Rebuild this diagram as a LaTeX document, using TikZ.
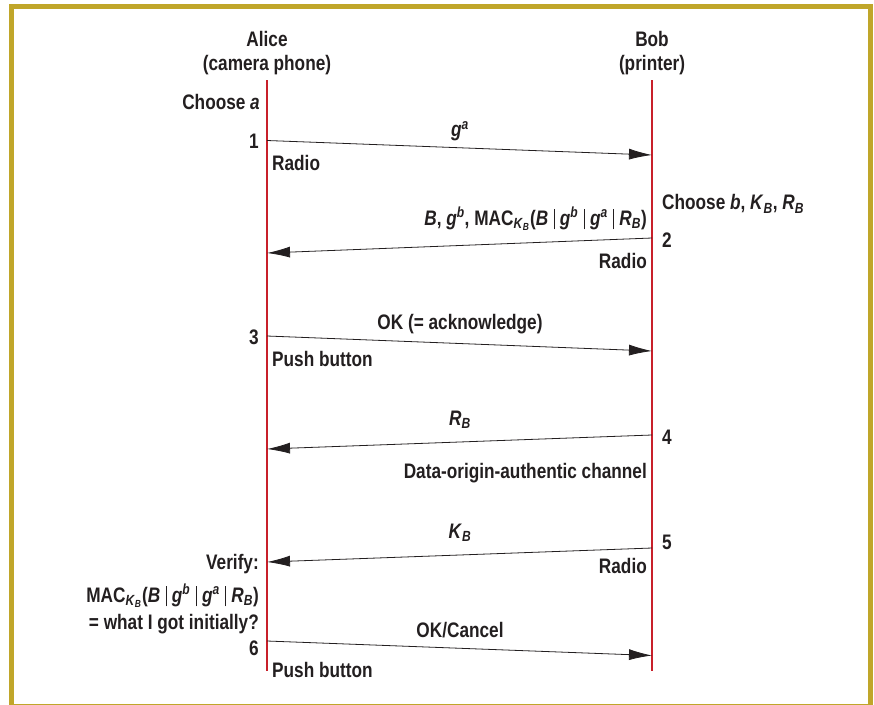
\documentclass[tikz,border=0pt]{standalone}
\usepackage{fontspec}
\setmainfont{Liberation Sans}[FakeStretch=0.82]
\usetikzlibrary{arrows.meta}
\definecolor{framegold}{RGB}{192,166,42}
\definecolor{lifered}{RGB}{200,32,42}
\definecolor{inkgray}{RGB}{35,31,32}
\newcommand{\msgbar}{\hspace{5.5pt}\rule[-4pt]{0.7pt}{20pt}\hspace{5.5pt}}
\newcommand{\KB}{\textit{K}\textsubscript{\textit{B}}}
\newcommand{\RB}{\textit{R}\textsubscript{\textit{B}}}
\newcommand{\macterm}{MAC\textsubscript{\KB}(\textit{B}\msgbar\textit{g}\textsuperscript{\textit{b}}\msgbar\textit{g}\textsuperscript{\textit{a}}\msgbar\RB)}
\begin{document}
\begin{tikzpicture}[x=1pt, y=-1pt, font=\bfseries\fontsize{21}{24}\selectfont,
        txt/.style={inner sep=0pt, text=inkgray},
        life/.style={draw=lifered, line width=2pt},
        msg/.style={draw=inkgray, line width=0.8pt,
                    -{Latex[length=23pt, width=11pt]}}]
      \useasboundingbox (0,0) rectangle (874,704);
      % Cadre
      \draw[framegold, line width=5pt] (11.5,6.5) rectangle (870.5,706);
      % Participants
      \node[txt, align=center] (alice) at (267,53) {Alice\\(camera phone)};
      \node[txt, align=center] (bob)   at (652,53) {Bob\\(printer)};
      % Lignes de vie
      \coordinate (a0) at (267,80);  \coordinate (a1) at (267,671);
      \coordinate (b0) at (652,80);  \coordinate (b1) at (652,671);
      \draw[life] (a0) -- (a1);
      \draw[life] (b0) -- (b1);
      % Extremites des messages
      \coordinate (a-1) at (267,140.5); \coordinate (b-1) at (652,155);
      \coordinate (b-2) at (652,238);   \coordinate (a-2) at (267,253);
      \coordinate (a-3) at (267,336);   \coordinate (b-3) at (652,351);
      \coordinate (b-4) at (652,435);   \coordinate (a-4) at (267,449);
      \coordinate (b-5) at (652,548);   \coordinate (a-5) at (267,562);
      \coordinate (a-6) at (267,641);   \coordinate (b-6) at (652,655.5);
      % Fleches Alice -> Bob
      \foreach \n in {1,3,6}
        \draw[msg] (a-\n) -- (b-\n);
      % Fleches Bob -> Alice
      \foreach \n in {2,4,5}
        \draw[msg] (b-\n) -- (a-\n);
      % Contenu des messages
      \node[txt] (lab1) at (460,131) {\textit{g}\textsuperscript{\textit{a}}};
      \node[txt, anchor=east] (lab2) at (647,219)
            {\textit{B}, \textit{g}\textsuperscript{\textit{b}}, \macterm};
      \node[txt] (lab3) at (460,324) {OK (= acknowledge)};
      \node[txt] (lab4) at (460,420) {\RB};
      \node[txt] (lab5) at (460,533) {\KB};
      \node[txt] (lab6) at (460,630) {OK/Cancel};
      % Numeros
      \node[txt, anchor=east] (n1) at (259,141) {1};
      \node[txt, anchor=west] (n2) at (662,240) {2};
      \node[txt, anchor=east] (n3) at (259,337) {3};
      \node[txt, anchor=west] (n4) at (662,437) {4};
      \node[txt, anchor=west] (n5) at (662,542) {5};
      \node[txt, anchor=east] (n6) at (259,648) {6};
      % Canaux
      \node[txt, anchor=west] (ch1) at (272,163) {Radio};
      \node[txt, anchor=east] (ch2) at (647,261) {Radio};
      \node[txt, anchor=west] (ch3) at (272,359) {Push button};
      \node[txt, anchor=east] (ch4) at (647,473) {Data-origin-authentic channel};
      \node[txt, anchor=east] (ch5) at (647,566) {Radio};
      \node[txt, anchor=west] (ch6) at (272,670) {Push button};
      % Actions locales
      \node[txt, anchor=east] (choosea) at (260,102) {Choose \textit{a}};
      \node[txt, anchor=west] (chooseb) at (662,204)
            {Choose \textit{b}, \KB, \RB};
      \node[txt, align=right, anchor=north east] (verify) at (259,554)
            {Verify:\\[9pt] \macterm\\[3pt] = what I got initially?};
    \end{tikzpicture}
\end{document}
